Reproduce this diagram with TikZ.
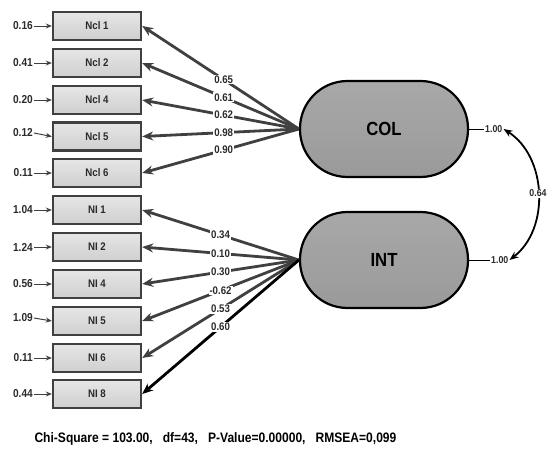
\documentclass[tikz,border=0pt]{standalone}
\usepackage{fontspec}
\setmainfont[FakeStretch=0.88]{Liberation Sans}
\usetikzlibrary{arrows.meta}
\definecolor{edgegray}{HTML}{404040}
\definecolor{boxfillA}{HTML}{E6E6E6}
\definecolor{boxfillB}{HTML}{CFCFCF}
\definecolor{latfillA}{HTML}{A8A8A8}
\definecolor{latfillB}{HTML}{9A9A9A}
\definecolor{txt}{HTML}{2A2A2A}
\begin{document}
\begin{tikzpicture}[x=1pt,y=-1pt,
  obs/.style={draw=edgegray, line width=2.4pt, top color=boxfillA, bottom color=boxfillB,
    minimum width=88pt, minimum height=28pt, inner sep=0pt,
    font=\bfseries\fontsize{11}{12}\selectfont, text=txt},
  lat/.style={draw=black, line width=2.2pt, top color=latfillA, bottom color=latfillB,
    rounded corners=47.5pt, minimum width=168pt, minimum height=96pt, inner sep=0pt,
    font=\bfseries\fontsize{19}{21}\selectfont, text=black},
  errlab/.style={font=\bfseries\fontsize{11.5}{12}\selectfont, text=txt, inner sep=1pt, anchor=east},
  errarr/.style={draw=edgegray, line width=1pt, -{Stealth[length=6pt,width=5pt]}},
  load/.style={draw=edgegray, line width=2.8pt, -{Stealth[length=11pt,width=9pt]}},
  loadlab/.style={fill=white, inner sep=1pt, font=\bfseries\fontsize{11}{12}\selectfont, text=txt},
  varlab/.style={font=\bfseries\fontsize{10}{11}\selectfont, text=txt, inner sep=1pt, anchor=west}
]
\useasboundingbox (0,0) rectangle (558,463);

% observed indicators
\node[obs] (b1) at (97,26) {Ncl 1};
\node[obs] (b2) at (97,63) {Ncl 2};
\node[obs] (b3) at (97,100) {Ncl 4};
\node[obs] (b4) at (97,136.5) {Ncl 5};
\node[obs] (b5) at (97,173) {Ncl 6};
\node[obs] (b6) at (97,210) {NI 1};
\node[obs] (b7) at (97,247) {NI 2};
\node[obs] (b8) at (97,284) {NI 4};
\node[obs] (b9) at (97,321) {NI 5};
\node[obs] (b10) at (97,358) {NI 6};
\node[obs] (b11) at (97,394) {NI 8};

% error variances
\node[errlab] (e1) at (34,26) {0.16};
\node[errlab] (e2) at (34,63) {0.41};
\node[errlab] (e3) at (34,100) {0.20};
\node[errlab] (e4) at (34,133) {0.12};
\node[errlab] (e5) at (34,173) {0.11};
\node[errlab] (e6) at (34,210) {1.04};
\node[errlab] (e7) at (34,247) {1.24};
\node[errlab] (e8) at (34,284) {0.56};
\node[errlab] (e9) at (34,318) {1.09};
\node[errlab] (e10) at (34,358) {0.11};
\node[errlab] (e11) at (34,394) {0.44};
\foreach \i in {1,...,11} {\draw[errarr] (e\i.east) -- (b\i.west);}

% latent variables
\node[lat] (col) at (384,129) {COL};
\node[lat] (int) at (384,260) {INT};

% loadings
\draw[load] (col.west) -- (b1.east) node[loadlab, pos=0.48] {0.65};
\draw[load] (col.west) -- (b2.east) node[loadlab, pos=0.48] {0.61};
\draw[load] (col.west) -- (b3.east) node[loadlab, pos=0.48] {0.62};
\draw[load] (col.west) -- (b4.east) node[loadlab, pos=0.48] {0.98};
\draw[load] (col.west) -- (b5.east) node[loadlab, pos=0.48] {0.90};
\draw[load] (int.west) -- (b6.east) node[loadlab, pos=0.5] {0.34};
\draw[load] (int.west) -- (b7.east) node[loadlab, pos=0.5] {0.10};
\draw[load] (int.west) -- (b8.east) node[loadlab, pos=0.5] {0.30};
\draw[load] (int.west) -- (b9.east) node[loadlab, pos=0.5] {-0.62};
\draw[load] (int.west) -- (b10.east) node[loadlab, pos=0.5] {0.53};
\draw[load, draw=black] (int.west) -- (b11.east) node[loadlab, pos=0.5] {0.60};

% variances of latent variables
\node[varlab] (c1) at (484,129) {1.00};
\node[varlab] (i1) at (490,260) {1.00};
\draw[line width=1pt] (col.east) -- (c1.west);
\draw[line width=1pt] (int.east) -- (i1.west);
\draw[line width=1.8pt, {Stealth[length=9pt,width=7pt]}-{Stealth[length=9pt,width=7pt]}]
  (c1.east) to[bend left=55] node[loadlab, font=\bfseries\fontsize{10}{11}\selectfont] {0.64} (i1.east);

% fit statistics
\node[font=\bfseries\fontsize{13.7}{15}\selectfont, text=black, anchor=west] (fit) at (31,439)
  {Chi-Square = 103.00,\ \ \ df=43,\ \ \ P-Value=0.00000,\ \ \ RMSEA=0,099};
\end{tikzpicture}
\end{document}
